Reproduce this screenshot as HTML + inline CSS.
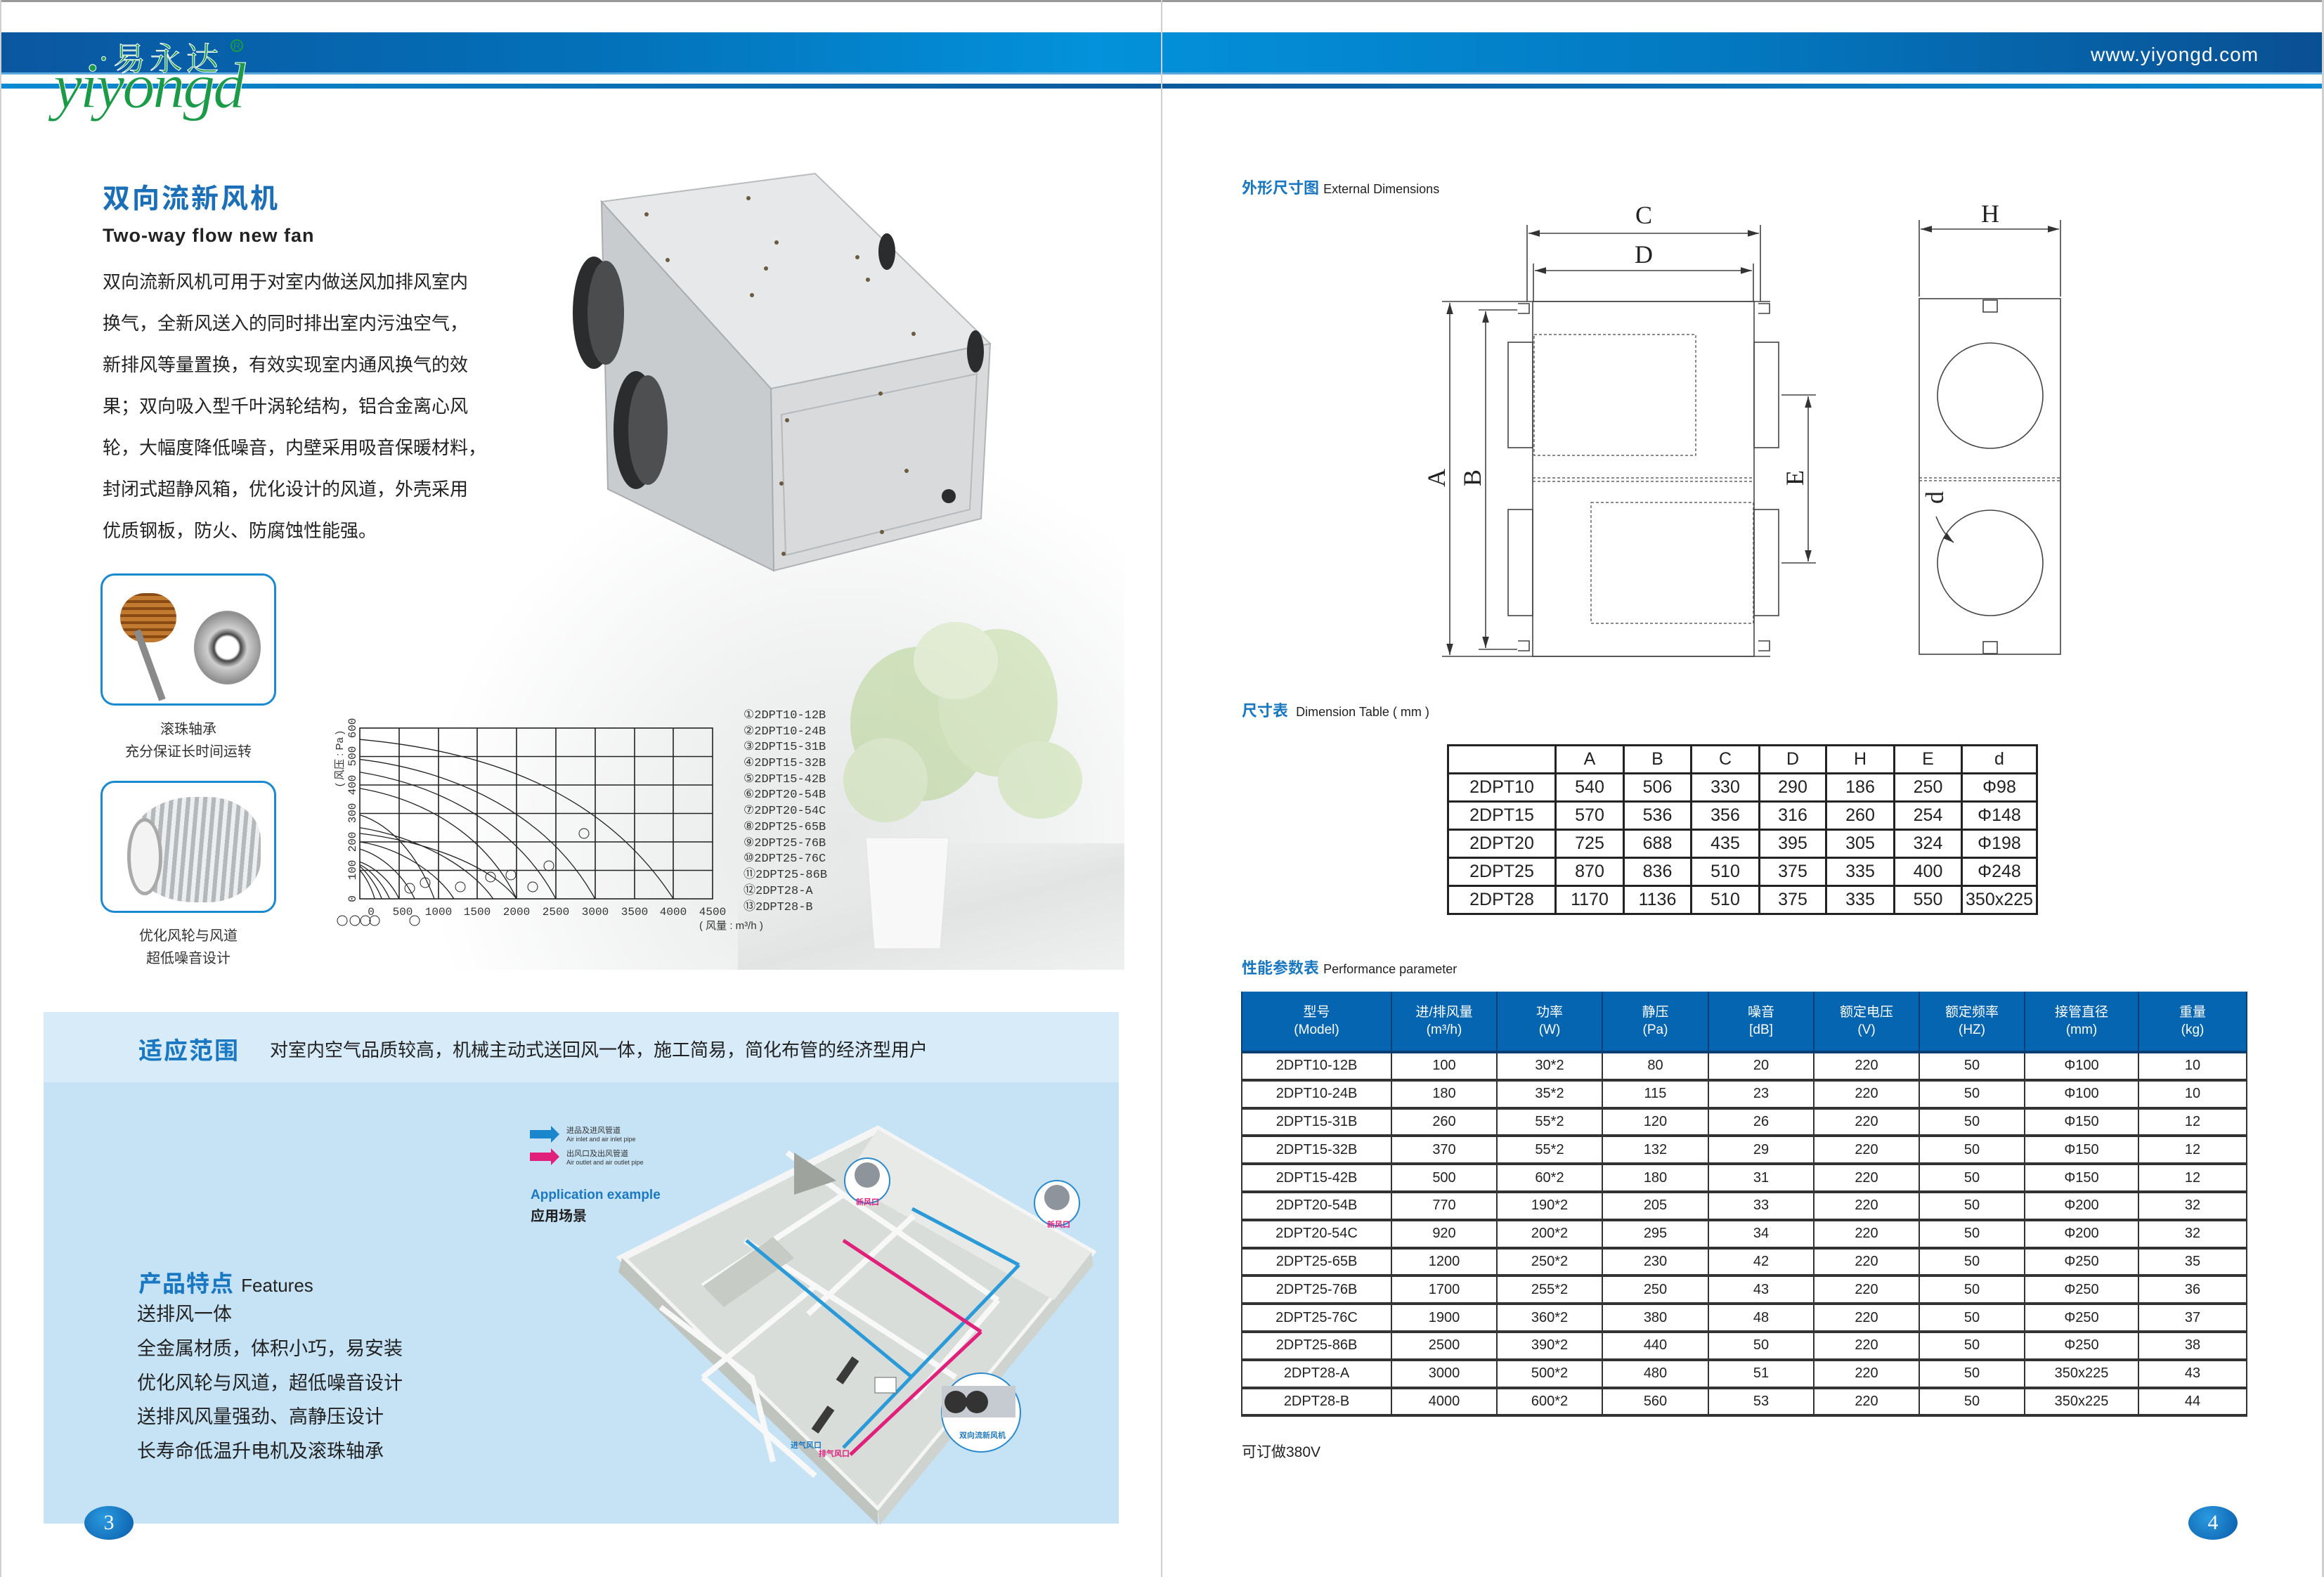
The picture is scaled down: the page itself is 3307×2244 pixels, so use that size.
<!DOCTYPE html>
<html><head><meta charset="utf-8">
<style>
*{margin:0;padding:0;box-sizing:border-box}
body{width:3307px;height:2244px;position:relative;background:#fff;overflow:hidden;font-family:"Liberation Sans","Noto Sans CJK SC",sans-serif;color:#222}
.a{position:absolute;white-space:nowrap}
table{border-collapse:collapse;position:absolute}
#dt td{border:3px solid #222;text-align:center;font-size:25px;height:40px;padding:0}
#pt td{text-align:center;font-size:20px;padding:0;border-left:2px solid #333;border-right:2px solid #333;border-bottom:4px solid #333;height:39.8px}
#pt tr.h td{background:#0565b0;color:#fff;height:86px;font-size:19px;line-height:25px;border-color:#0a3f73}
</style></head><body>

<!-- header bands -->
<div class="a" style="left:0;top:0;width:3307px;height:3px;background:#999"></div>
<div class="a" style="left:0;top:46px;width:3307px;height:58px;background:linear-gradient(90deg,#0a57a0 0%,#0370b8 25%,#0392db 47%,#0378c0 75%,#0a4f92 100%)"></div>
<div class="a" style="left:0;top:103px;width:3307px;height:3px;background:#5aa8dc"></div>
<div class="a" style="left:0;top:119px;width:3307px;height:7px;background:linear-gradient(90deg,#0a8ad2 0%,#0a5a9c 50%,#0a8ad2 100%)"></div>
<div class="a" style="left:1652px;top:0;width:2px;height:2244px;background:#cfcfcf"></div>
<div class="a" style="left:0;top:0;width:2px;height:2244px;background:#cfcfcf"></div>
<div class="a" style="left:3304px;top:0;width:3px;height:2244px;background:#cfcfcf"></div>
<div class="a" style="left:2975px;top:62px;font-size:28px;color:#fff;letter-spacing:1px">www.yiyongd.com</div>

<!-- background scene (soft) -->
<div class="a" style="left:600px;top:620px;width:1000px;height:760px;background:radial-gradient(ellipse at 60% 75%,#e6e8e8 0%,#f1f2f2 35%,rgba(255,255,255,0) 70%)"></div>
<div class="a" style="left:1050px;top:1200px;width:550px;height:180px;background:linear-gradient(165deg,rgba(255,255,255,0) 20%,#e2e4e4 55%,#eff0f0 100%)"></div>

<!-- logo -->
<div class="a" style="left:140px;top:48px;font-size:46px;color:#1b9a48;font-family:'Noto Serif CJK SC',serif;letter-spacing:6px;-webkit-text-stroke:1px #fff">·易永达</div>
<div class="a" style="left:328px;top:56px;font-size:14px;color:#1b9a48;border:2px solid #1b9a48;border-radius:50%;width:18px;height:18px;line-height:14px;text-align:center">R</div>
<div class="a" style="left:76px;top:72px;font-size:92px;line-height:100px;color:#1b9a48;font-family:'Liberation Serif',serif;font-style:italic;letter-spacing:-3px;-webkit-text-stroke:1px #fff">yiyongd</div>

<!-- left top text -->
<div class="a" style="left:146px;top:252px;font-size:39px;font-weight:bold;color:#1a6fb8;letter-spacing:3px">双向流新风机</div>
<div class="a" style="left:146px;top:320px;font-size:27px;font-weight:bold;color:#222;letter-spacing:1px">Two-way flow new fan</div>
<div class="a" style="left:146px;top:372px;font-size:26px;line-height:59px;color:#222;white-space:normal;width:560px">双向流新风机可用于对室内做送风加排风室内<br>换气，全新风送入的同时排出室内污浊空气，<br>新排风等量置换，有效实现室内通风换气的效<br>果；双向吸入型千叶涡轮结构，铝合金离心风<br>轮，大幅度降低噪音，内壁采用吸音保暖材料，<br>封闭式超静风箱，优化设计的风道，外壳采用<br>优质钢板，防火、防腐蚀性能强。</div>

<svg class="a" style="left:0;top:0" width="3307" height="2244">
  <!-- plant -->
  <g opacity="0.45">
    <ellipse cx="1310" cy="1030" rx="100" ry="110" fill="#a8cc7c"/>
    <ellipse cx="1420" cy="1000" rx="85" ry="105" fill="#b6d58c"/>
    <ellipse cx="1260" cy="1110" rx="60" ry="60" fill="#c2dc9e"/>
    <ellipse cx="1480" cy="1110" rx="60" ry="55" fill="#bfdb9a"/>
    <ellipse cx="1360" cy="940" rx="60" ry="55" fill="#cfe4ae"/>
  </g>
  <path d="M1232,1192 L1350,1192 L1338,1350 L1244,1350 Z" fill="#f7f8f7" stroke="#e2e4e4"/>
  <!-- fan box -->
  <polygon points="856,287 1160,247 1409,489 1097,553" fill="#e6e8e9" stroke="#b8bcbf" stroke-width="2"/>
  <polygon points="1097,553 1409,489 1396,738 1101,812" fill="#d8dadc" stroke="#b0b4b7" stroke-width="2"/>
  <polygon points="856,287 1097,553 1101,812 865,696" fill="#c8ccce" stroke="#a9adb0" stroke-width="2"/>
  <polygon points="1112,590 1390,532 1380,725 1118,790" fill="none" stroke="#b6babd" stroke-width="2"/>
  <ellipse cx="845" cy="445" rx="30" ry="80" fill="#2a2c2e"/>
  <ellipse cx="862" cy="445" rx="26" ry="74" fill="#4a4c4e"/>
  <ellipse cx="905" cy="612" rx="32" ry="84" fill="#2a2c2e"/>
  <ellipse cx="922" cy="612" rx="28" ry="78" fill="#4d4f51"/>
  <ellipse cx="1262" cy="358" rx="12" ry="26" fill="#2a2c2e"/>
  <ellipse cx="1388" cy="500" rx="12" ry="30" fill="#2a2c2e"/>
  <ellipse cx="1350" cy="706" rx="10" ry="10" fill="#2a2c2e"/>
  <g fill="#6b5a40"><circle cx="920" cy="305" r="3"/><circle cx="1065" cy="282" r="3"/><circle cx="950" cy="370" r="3"/><circle cx="1105" cy="345" r="3"/><circle cx="1090" cy="382" r="3"/><circle cx="1220" cy="366" r="3"/><circle cx="1070" cy="420" r="3"/><circle cx="1235" cy="398" r="3"/><circle cx="1300" cy="475" r="3"/><circle cx="1120" cy="598" r="3"/><circle cx="1253" cy="560" r="3"/><circle cx="1112" cy="688" r="3"/><circle cx="1290" cy="670" r="3"/><circle cx="1255" cy="757" r="3"/><circle cx="1115" cy="788" r="3"/></g>

  <!-- chart -->
  <g stroke="#222" stroke-width="1.6" fill="none">
    <rect x="512" y="1036" width="502" height="243"/>
    <line x1="568" y1="1036" x2="568" y2="1279"/><line x1="624" y1="1036" x2="624" y2="1279"/><line x1="679" y1="1036" x2="679" y2="1279"/><line x1="735" y1="1036" x2="735" y2="1279"/><line x1="791" y1="1036" x2="791" y2="1279"/><line x1="847" y1="1036" x2="847" y2="1279"/><line x1="903" y1="1036" x2="903" y2="1279"/><line x1="958" y1="1036" x2="958" y2="1279"/>
    <line x1="512" y1="1076.5" x2="1014" y2="1076.5"/><line x1="512" y1="1117" x2="1014" y2="1117"/><line x1="512" y1="1157.5" x2="1014" y2="1157.5"/><line x1="512" y1="1198" x2="1014" y2="1198"/><line x1="512" y1="1238.5" x2="1014" y2="1238.5"/>
  </g>
  <g transform="translate(512,1279) scale(0.11156,-0.405)" fill="none" stroke="#222" stroke-width="1.3">
    <path vector-effect="non-scaling-stroke" d="M0,560 C1600,520 3100,380 4000,0"/>
    <path vector-effect="non-scaling-stroke" d="M0,490 C1200,450 2400,300 3000,0"/>
    <path vector-effect="non-scaling-stroke" d="M0,445 C1000,400 2000,260 2500,0"/>
    <path vector-effect="non-scaling-stroke" d="M0,388 C800,350 1600,230 2000,0"/>
    <path vector-effect="non-scaling-stroke" d="M0,295 C400,260 750,150 950,0"/>
    <path vector-effect="non-scaling-stroke" d="M0,250 C700,220 1400,120 1700,0"/>
    <path vector-effect="non-scaling-stroke" d="M0,200 C500,180 1000,90 1200,0"/>
    <path vector-effect="non-scaling-stroke" d="M0,230 C900,200 1700,110 2000,0"/>
    <path vector-effect="non-scaling-stroke" d="M0,175 C300,150 560,80 700,0"/>
    <path vector-effect="non-scaling-stroke" d="M0,130 C200,110 400,60 500,0"/>
    <path vector-effect="non-scaling-stroke" d="M0,120 C150,100 300,50 380,0"/>
    <path vector-effect="non-scaling-stroke" d="M0,115 C100,90 220,45 280,0"/>
    <path vector-effect="non-scaling-stroke" d="M0,100 C70,80 150,40 190,0"/>
  </g>
  <g stroke="#222" stroke-width="1" fill="none">
    <circle cx="831" cy="1186" r="7"/><circle cx="781" cy="1232" r="7"/><circle cx="758" cy="1262" r="7"/><circle cx="727" cy="1245" r="7"/><circle cx="698" cy="1248" r="7"/><circle cx="655" cy="1262" r="7"/><circle cx="605" cy="1256" r="7"/><circle cx="583" cy="1264" r="7"/><circle cx="487" cy="1310" r="7"/><circle cx="505" cy="1310" r="7"/><circle cx="520" cy="1310" r="7"/><circle cx="533" cy="1310" r="7"/><circle cx="590" cy="1310" r="7"/>
  </g>
  <g font-family="Liberation Mono" font-size="16" fill="#333">
    <text x="528" y="1302" text-anchor="middle">0</text><text x="573" y="1302" text-anchor="middle">500</text><text x="624" y="1302" text-anchor="middle">1000</text><text x="679" y="1302" text-anchor="middle">1500</text><text x="735" y="1302" text-anchor="middle">2000</text><text x="791" y="1302" text-anchor="middle">2500</text><text x="847" y="1302" text-anchor="middle">3000</text><text x="903" y="1302" text-anchor="middle">3500</text><text x="958" y="1302" text-anchor="middle">4000</text><text x="1014" y="1302" text-anchor="middle">4500</text>
    <g transform="rotate(-90)"><text x="-1279" y="506" text-anchor="middle">0</text><text x="-1238" y="506" text-anchor="middle">100</text><text x="-1198" y="506" text-anchor="middle">200</text><text x="-1157" y="506" text-anchor="middle">300</text><text x="-1117" y="506" text-anchor="middle">400</text><text x="-1076" y="506" text-anchor="middle">500</text><text x="-1036" y="506" text-anchor="middle">600</text><text x="-1040" y="488" text-anchor="end" font-family="Liberation Sans,Noto Sans CJK SC,sans-serif" font-size="15">( 风压 : Pa )</text></g>
    <text x="995" y="1322" font-family="Liberation Sans,Noto Sans CJK SC,sans-serif" font-size="15">( 风量 : m³/h )</text>
    <g font-size="17"><text x="1058" y="1022">①2DPT10-12B</text><text x="1058" y="1045">②2DPT10-24B</text><text x="1058" y="1067">③2DPT15-31B</text><text x="1058" y="1090">④2DPT15-32B</text><text x="1058" y="1113">⑤2DPT15-42B</text><text x="1058" y="1135">⑥2DPT20-54B</text><text x="1058" y="1158">⑦2DPT20-54C</text><text x="1058" y="1181">⑧2DPT25-65B</text><text x="1058" y="1204">⑨2DPT25-76B</text><text x="1058" y="1226">⑩2DPT25-76C</text><text x="1058" y="1249">⑪2DPT25-86B</text><text x="1058" y="1272">⑫2DPT28-A</text><text x="1058" y="1295">⑬2DPT28-B</text></g>
  </g>
</svg>

<!-- small image boxes -->
<div class="a" style="left:143px;top:816px;width:250px;height:188px;border:3px solid #1a8ad0;border-radius:20px;background:#fff;overflow:hidden">
  <div class="a" style="left:25px;top:25px;width:80px;height:70px;border-radius:40px;background:repeating-linear-gradient(0deg,#c27a30 0 6px,#8a4a14 6px 10px)"></div>
  <div class="a" style="left:62px;top:75px;width:10px;height:105px;background:#8a8a8a;transform:rotate(-20deg)"></div>
  <div class="a" style="left:130px;top:50px;width:95px;height:105px;border-radius:50%;background:radial-gradient(circle,#fff 22%,#444 27%,#cfcfcf 40%,#8e8e8e 70%,#ddd 100%)"></div>
</div>
<div class="a" style="left:143px;top:1022px;width:250px;text-align:center;font-size:20px;line-height:32px;color:#333">滚珠轴承<br>充分保证长时间运转</div>
<div class="a" style="left:143px;top:1111px;width:250px;height:188px;border:3px solid #1a8ad0;border-radius:20px;background:#fff;overflow:hidden">
  <div class="a" style="left:35px;top:20px;width:190px;height:150px;border-radius:50% 40% 40% 50%;background:repeating-linear-gradient(95deg,#b5b8bb 0 6px,#eceeef 6px 12px)"></div>
  <div class="a" style="left:35px;top:50px;width:50px;height:110px;border-radius:50%;background:#f3f3f3;border:5px solid #a9a9a9"></div>
</div>
<div class="a" style="left:143px;top:1316px;width:250px;text-align:center;font-size:20px;line-height:32px;color:#333">优化风轮与风道<br>超低噪音设计</div>

<!-- light blue section -->
<div class="a" style="left:62px;top:1440px;width:1530px;height:728px;background:#c6e3f6"></div>
<div class="a" style="left:62px;top:1440px;width:1530px;height:100px;background:#d7ebf9"></div>
<div class="a" style="left:197px;top:1468px;font-size:34px;font-weight:bold;color:#1a78c2;letter-spacing:2px">适应范围</div>
<div class="a" style="left:384px;top:1474px;font-size:26px;color:#222">对室内空气品质较高，机械主动式送回风一体，施工简易，简化布管的经济型用户</div>
<div class="a" style="left:197px;top:1800px;font-size:33px;font-weight:bold;color:#1a78c2;letter-spacing:1px">产品特点 <span style="font-size:26px;font-weight:normal;color:#222;letter-spacing:0">Features</span></div>
<div class="a" style="left:195px;top:1846px;font-size:27px;line-height:48.8px;color:#222">送排风一体<br>全金属材质，体积小巧，易安装<br>优化风轮与风道，超低噪音设计<br>送排风风量强劲、高静压设计<br>长寿命低温升电机及滚珠轴承</div>

<!-- legend -->
<svg class="a" style="left:750px;top:1600px" width="60" height="60"><polygon points="4,8 34,8 34,2 46,14 34,26 34,20 4,20" fill="#1a86cc"/><polygon points="4,40 34,40 34,34 46,46 34,58 34,52 4,52" fill="#e0207a"/></svg>
<div class="a" style="left:806px;top:1603px;font-size:11px;color:#333;line-height:12px">进品及进风管道<br><span style="font-size:9px">Air inlet and air inlet pipe</span></div>
<div class="a" style="left:806px;top:1636px;font-size:11px;color:#333;line-height:12px">出风口及出风管道<br><span style="font-size:9px">Air outlet and air outlet pipe</span></div>
<div class="a" style="left:755px;top:1690px;font-size:19px;font-weight:bold;color:#1a78c2">Application example</div>
<div class="a" style="left:755px;top:1714px;font-size:20px;font-weight:bold;color:#222">应用场景</div>

<!-- house -->
<svg class="a" style="left:0;top:0" width="3307" height="2244">
  <polygon points="1249,1607 1553,1782 1249,2150 885,1790" fill="#d9ddd9" stroke="#f4f5f4" stroke-width="10"/>
  <polygon points="885,1790 1249,2150 1249,2170 880,1810" fill="#bfc4bf"/>
  <polygon points="1249,2150 1553,1782 1556,1800 1252,2170" fill="#cfd3cf"/>
  <polygon points="1249,1607 1553,1782 1500,1850 1200,1680" fill="#e8eae7"/>
  <g stroke="#f8f8f8" stroke-width="8" fill="none">
    <path d="M1120,1640 L1200,1700 L1000,1830"/>
    <path d="M1060,1765 L1160,1830 L1000,1960"/>
    <path d="M1200,1700 L1420,1850"/>
    <path d="M1160,1830 L1360,1960"/>
    <path d="M1300,1730 L1150,1870"/>
    <path d="M940,1860 L1070,1960 L1100,2080"/>
    <path d="M1420,1850 L1300,1990"/>
    <path d="M1000,1960 L1160,2100"/>
  </g>
  <polygon points="1000,1830 1100,1760 1130,1790 1030,1860" fill="#c6cbc5"/>
  <polygon points="1130,1640 1190,1680 1130,1700" fill="#9ea39d"/>
  <g fill="#3a3a3a"><rect x="1200" y="1930" width="12" height="40" transform="rotate(35 1206 1950)"/><rect x="1165" y="2000" width="12" height="40" transform="rotate(35 1171 2020)"/></g>
  <line x1="1062" y1="1765" x2="1298" y2="1960" stroke="#2a9ad8" stroke-width="5"/>
  <line x1="1298" y1="1720" x2="1450" y2="1800" stroke="#2a9ad8" stroke-width="5"/>
  <line x1="1450" y1="1800" x2="1200" y2="2060" stroke="#2a9ad8" stroke-width="5"/>
  <line x1="1200" y1="1765" x2="1396" y2="1895" stroke="#e0207a" stroke-width="5"/>
  <line x1="1396" y1="1895" x2="1210" y2="2070" stroke="#e0207a" stroke-width="5"/>
  <rect x="1245" y="1960" width="30" height="22" fill="#fff" stroke="#666"/>
  <circle cx="1234" cy="1680" r="32" fill="#fff" stroke="#2a8ad0" stroke-width="2"/>
  <circle cx="1234" cy="1672" r="18" fill="#8d949b"/>
  <circle cx="1504" cy="1712" r="32" fill="#fff" stroke="#2a8ad0" stroke-width="2"/>
  <circle cx="1504" cy="1704" r="18" fill="#8d949b"/>
  <circle cx="1396" cy="2010" r="56" fill="#fff" stroke="#2a8ad0" stroke-width="2"/>
  <rect x="1340" y="1972" width="105" height="45" fill="#c5cbd0"/>
  <circle cx="1360" cy="1995" r="16" fill="#333"/><circle cx="1390" cy="1995" r="16" fill="#333"/>
  <g font-size="11" font-weight="bold" font-family="Noto Sans CJK SC,sans-serif"><text x="1218" y="1714" fill="#e0207a">新风口</text><text x="1490" y="1746" fill="#e0207a">新风口</text><text x="1365" y="2046" fill="#1a78c2">双向流新风机</text><text x="1125" y="2060" fill="#1a78c2">进气风口</text><text x="1165" y="2072" fill="#e0207a">排气风口</text></g>
</svg>

<!-- page numbers -->
<div class="a" style="left:120px;top:2143px;width:70px;height:48px;border-radius:50%;background:radial-gradient(circle at 40% 35%,#2a9ae0,#0a5aa8);color:#fff;font-family:'Liberation Serif',serif;font-size:30px;text-align:center;line-height:48px">3</div>
<div class="a" style="left:3114px;top:2143px;width:70px;height:48px;border-radius:50%;background:radial-gradient(circle at 40% 35%,#2a9ae0,#0a5aa8);color:#fff;font-family:'Liberation Serif',serif;font-size:30px;text-align:center;line-height:48px">4</div>

<!-- right page headings -->
<div class="a" style="left:1767px;top:250px;font-size:22px;font-weight:bold;color:#1a78c2">外形尺寸图 <span style="font-size:18px;font-weight:normal;color:#222">External Dimensions</span></div>
<div class="a" style="left:1767px;top:994px;font-size:22px;font-weight:bold;color:#1a78c2">尺寸表 <span style="font-size:18px;font-weight:normal;color:#222">&nbsp;Dimension Table ( mm )</span></div>
<div class="a" style="left:1767px;top:1360px;font-size:22px;font-weight:bold;color:#1a78c2">性能参数表 <span style="font-size:18px;font-weight:normal;color:#222">Performance parameter</span></div>
<div class="a" style="left:1767px;top:2050px;font-size:21px;color:#222">可订做380V</div>

<!-- dimension drawing -->
<svg class="a" style="left:0;top:0" width="3307" height="2244">
  <defs><marker id="ar" markerWidth="10" markerHeight="6" refX="10" refY="3" orient="auto-start-reverse"><path d="M0,0 L10,3 L0,6 Z" fill="#333"/></marker></defs>
  <g stroke="#444" stroke-width="1.6" fill="none">
    <line x1="2052" y1="429" x2="2519" y2="429"/>
    <line x1="2052" y1="934" x2="2519" y2="934"/>
    <rect x="2181" y="429" width="315" height="505"/>
    <line x1="2063" y1="431" x2="2063" y2="932" marker-start="url(#ar)" marker-end="url(#ar)"/>
    <line x1="2104" y1="441" x2="2159" y2="441"/><line x1="2104" y1="924" x2="2159" y2="924"/>
    <line x1="2114" y1="443" x2="2114" y2="922" marker-start="url(#ar)" marker-end="url(#ar)"/>
    <line x1="2173" y1="320" x2="2173" y2="429"/><line x1="2505" y1="320" x2="2505" y2="429"/>
    <line x1="2182" y1="375" x2="2182" y2="429"/><line x1="2495" y1="375" x2="2495" y2="429"/>
    <line x1="2175" y1="332" x2="2503" y2="332" marker-start="url(#ar)" marker-end="url(#ar)"/>
    <line x1="2184" y1="385" x2="2493" y2="385" marker-start="url(#ar)" marker-end="url(#ar)"/>
    <rect x="2146" y="487" width="35" height="150"/><rect x="2146" y="725" width="35" height="151"/>
    <rect x="2496" y="487" width="35" height="150"/><rect x="2496" y="725" width="35" height="151"/>
    <path d="M2160,432 h16 v14 h-16 M2160,912 h16 v14 h-16 M2502,432 h16 v14 h-16 M2502,912 h16 v14 h-16"/>
    <line x1="2535" y1="562" x2="2584" y2="562"/><line x1="2535" y1="801" x2="2584" y2="801"/>
    <line x1="2573" y1="564" x2="2573" y2="799" marker-start="url(#ar)" marker-end="url(#ar)"/>
    <rect x="2731" y="425" width="201" height="506"/>
    <line x1="2731" y1="313" x2="2731" y2="422"/><line x1="2932" y1="313" x2="2932" y2="422"/>
    <line x1="2733" y1="326" x2="2930" y2="326" marker-start="url(#ar)" marker-end="url(#ar)"/>
    <circle cx="2832" cy="563" r="75"/><circle cx="2832" cy="801" r="75"/>
    <rect x="2822" y="427" width="20" height="17"/><rect x="2822" y="913" width="20" height="17"/>
    <path d="M2755,735 Q2765,760 2780,772" marker-end="url(#ar)"/>
  </g>
  <g stroke="#444" stroke-width="1.2" fill="none" stroke-dasharray="4,3">
    <rect x="2183" y="476" width="230" height="172"/><rect x="2264" y="715" width="231" height="172"/>
    <line x1="2181" y1="680" x2="2496" y2="680"/><line x1="2181" y1="685" x2="2496" y2="685"/>
    <line x1="2731" y1="680" x2="2932" y2="680"/><line x1="2731" y1="684" x2="2932" y2="684"/>
  </g>
  <g font-family="Liberation Serif,serif" font-size="36" fill="#222" text-anchor="middle">
    <text x="2339" y="318">C</text><text x="2339" y="374">D</text><text x="2832" y="316">H</text>
    <text transform="translate(2056,680) rotate(-90)">A</text>
    <text transform="translate(2107,680) rotate(-90)">B</text>
    <text transform="translate(2566,680) rotate(-90)">E</text>
    <text transform="translate(2765,708) rotate(-90)">d</text>
  </g>
</svg>

<!-- dimension table -->
<table id="dt" style="left:2059px;top:1059px;width:841px">
<tr><td style="width:153px"></td><td style="width:97px">A</td><td style="width:96px">B</td><td style="width:97px">C</td><td style="width:95px">D</td><td style="width:97px">H</td><td style="width:96px">E</td><td>d</td></tr>
<tr><td>2DPT10</td><td>540</td><td>506</td><td>330</td><td>290</td><td>186</td><td>250</td><td>Φ98</td></tr>
<tr><td>2DPT15</td><td>570</td><td>536</td><td>356</td><td>316</td><td>260</td><td>254</td><td>Φ148</td></tr>
<tr><td>2DPT20</td><td>725</td><td>688</td><td>435</td><td>395</td><td>305</td><td>324</td><td>Φ198</td></tr>
<tr><td>2DPT25</td><td>870</td><td>836</td><td>510</td><td>375</td><td>335</td><td>400</td><td>Φ248</td></tr>
<tr><td>2DPT28</td><td>1170</td><td>1136</td><td>510</td><td>375</td><td>335</td><td>550</td><td>350x225</td></tr>
</table>

<!-- performance table -->
<table id="pt" style="left:1766px;top:1411px;width:1432px">
<tr class="h"><td style="width:213px">型号<br>(Model)</td><td style="width:150px">进/排风量<br>(m³/h)</td><td style="width:150px">功率<br>(W)</td><td style="width:151px">静压<br>(Pa)</td><td style="width:150px">噪音<br>[dB]</td><td style="width:150px">额定电压<br>(V)</td><td style="width:150px">额定频率<br>(HZ)</td><td style="width:162px">接管直径<br>(mm)</td><td>重量<br>(kg)</td></tr>
<tr><td>2DPT10-12B</td><td>100</td><td>30*2</td><td>80</td><td>20</td><td>220</td><td>50</td><td>Φ100</td><td>10</td></tr>
<tr><td>2DPT10-24B</td><td>180</td><td>35*2</td><td>115</td><td>23</td><td>220</td><td>50</td><td>Φ100</td><td>10</td></tr>
<tr><td>2DPT15-31B</td><td>260</td><td>55*2</td><td>120</td><td>26</td><td>220</td><td>50</td><td>Φ150</td><td>12</td></tr>
<tr><td>2DPT15-32B</td><td>370</td><td>55*2</td><td>132</td><td>29</td><td>220</td><td>50</td><td>Φ150</td><td>12</td></tr>
<tr><td>2DPT15-42B</td><td>500</td><td>60*2</td><td>180</td><td>31</td><td>220</td><td>50</td><td>Φ150</td><td>12</td></tr>
<tr><td>2DPT20-54B</td><td>770</td><td>190*2</td><td>205</td><td>33</td><td>220</td><td>50</td><td>Φ200</td><td>32</td></tr>
<tr><td>2DPT20-54C</td><td>920</td><td>200*2</td><td>295</td><td>34</td><td>220</td><td>50</td><td>Φ200</td><td>32</td></tr>
<tr><td>2DPT25-65B</td><td>1200</td><td>250*2</td><td>230</td><td>42</td><td>220</td><td>50</td><td>Φ250</td><td>35</td></tr>
<tr><td>2DPT25-76B</td><td>1700</td><td>255*2</td><td>250</td><td>43</td><td>220</td><td>50</td><td>Φ250</td><td>36</td></tr>
<tr><td>2DPT25-76C</td><td>1900</td><td>360*2</td><td>380</td><td>48</td><td>220</td><td>50</td><td>Φ250</td><td>37</td></tr>
<tr><td>2DPT25-86B</td><td>2500</td><td>390*2</td><td>440</td><td>50</td><td>220</td><td>50</td><td>Φ250</td><td>38</td></tr>
<tr><td>2DPT28-A</td><td>3000</td><td>500*2</td><td>480</td><td>51</td><td>220</td><td>50</td><td>350x225</td><td>43</td></tr>
<tr><td>2DPT28-B</td><td>4000</td><td>600*2</td><td>560</td><td>53</td><td>220</td><td>50</td><td>350x225</td><td>44</td></tr>
</table>

</body></html>
